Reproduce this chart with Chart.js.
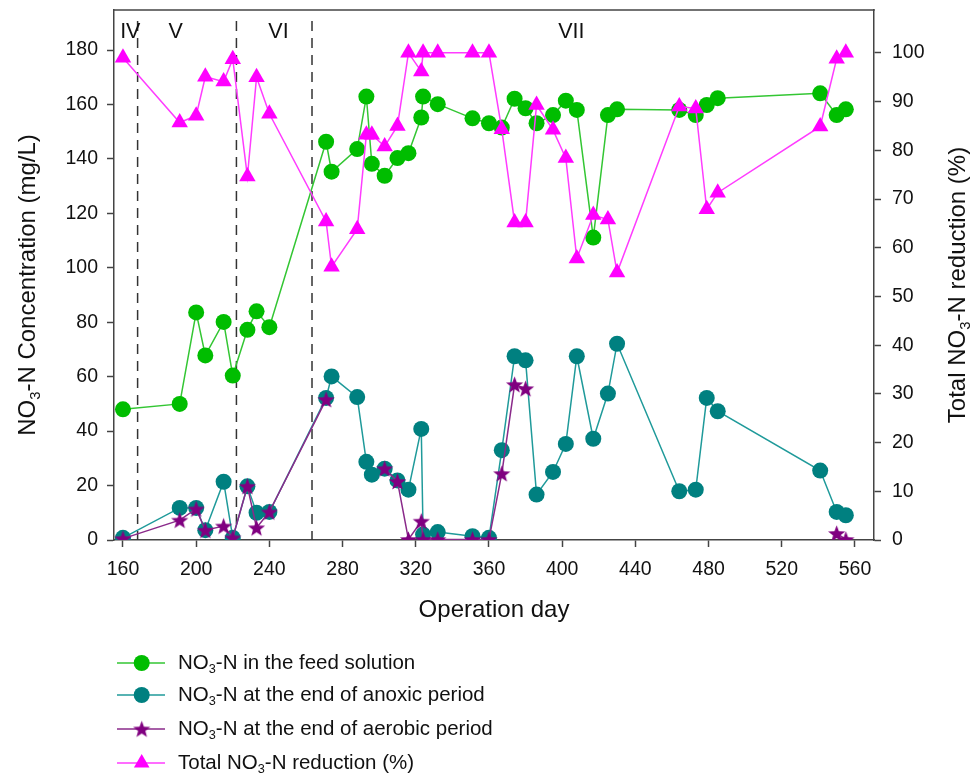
<!DOCTYPE html>
<html>
<head>
<meta charset="utf-8">
<script src="https://cdn.jsdelivr.net/npm/chart.js@4.4.1/dist/chart.umd.min.js"></script>
<style>
  html, body { margin: 0; padding: 0; background: #ffffff; }
  #wrap { position: relative; width: 976px; height: 776px; }
</style>
</head>
<body>
<div id="wrap"><canvas id="c" width="976" height="776"></canvas></div>
<script>
// Operation days (shared by all four series)
const days = [160, 191, 200, 205, 215, 220, 228, 233, 240, 271, 274, 288, 293, 296, 303, 310, 316, 323, 324, 332,
              351, 360, 367, 374, 380, 386, 395, 402, 408, 417, 425, 430, 464, 473, 479, 485, 541, 550, 555];

// NO3-N in the feed solution (mg/L)
const feedN = [48, 50, 83.6, 67.8, 80.1, 60.4, 77.2, 84, 78.2, 146.3, 135.3, 143.6, 162.9, 138.2, 133.8, 140.3, 142.1, 155.2, 162.9, 160.1,
               154.9, 153.1, 151.5, 162.1, 158.6, 153.1, 156.1, 161.4, 158, 111.1, 156.1, 158.2, 158, 156.1, 159.8, 162.3, 164.1, 156.1, 158.2];

// NO3-N at the end of the anoxic period (mg/L)
const anoxicN = [0.8, 11.8, 11.8, 3.6, 21.4, 0.8, 19.7, 10, 10.3, 52.2, 60.1, 52.5, 28.7, 24, 26.2, 21.9, 18.5, 40.8, 2, 2.9,
                 1.4, 0.8, 33, 67.5, 66, 16.7, 25, 35.3, 67.5, 37.2, 53.8, 72.1, 17.9, 18.5, 52.2, 47.3, 25.5, 10.3, 9.1];

// NO3-N at the end of the aerobic period (mg/L); null = not measured
const aerobicN = [0.5, 7.3, 11.4, 3.6, 5.1, 0.8, 19.7, 4.5, 10.3, 51.6, null, null, null, null, 26.2, 21.5, 0.2, 6.9, 0.2, 0.2,
                  0.2, 0.2, 24.4, 57.1, 55.6, null, null, null, null, null, null, null, null, null, null, null, null, 2.4, 0.2];

// Total NO3-N reduction (%)
const reductionPct = [99, 85.7, 87.1, 95.1, 94.1, 98.7, 74.6, 95, 87.5, 65.4, 56.1, 63.8, 83.2, 83.2, 80.8, 85, 100, 96.2, 100, 100,
                      100, 100, 84.3, 65.2, 65.2, 89.3, 84.2, 78.4, 57.8, 66.7, 65.8, 54.9, 89, 88.6, 67.9, 71.3, 84.9, 98.8, 100];

// Tick labels
const xTicks = [160, 200, 240, 280, 320, 360, 400, 440, 480, 520, 560];
const leftTicks = [0, 20, 40, 60, 80, 100, 120, 140, 160, 180];
const rightTicks = [0, 10, 20, 30, 40, 50, 60, 70, 80, 90, 100];

// Operating phases
const phaseBounds = [168, 222, 263.3];
const phaseNames = ['IV', 'V', 'VI', 'VII'];
const phaseLabelDays = [164, 188.8, 245, 405];

const seriesNames = [
  'NO\u2083-N in the feed solution',
  'NO\u2083-N at the end of anoxic period',
  'NO\u2083-N at the end of aerobic period',
  'Total NO\u2083-N reduction (%)'
];

const FONT = '"Liberation Sans", Arial, Helvetica, sans-serif';
const AXIS = '#444444';

const COLORS = {
  feed:   { line: '#33c633', fill: '#00bd00' },
  anoxic: { line: '#1f9a9a', fill: '#008080' },
  aerobic:{ line: '#8a2a8a', fill: '#800080' },
  red:    { line: '#ff3cff', fill: '#ff00ff' }
};

// filled five-point star
function starPath(ctx, cx, cy, R, r) {
  ctx.beginPath();
  for (let i = 0; i < 10; i++) {
    const rad = i % 2 === 0 ? R : r;
    const a = -Math.PI / 2 + i * Math.PI / 5;
    const px = cx + rad * Math.cos(a), py = cy + rad * Math.sin(a);
    if (i === 0) ctx.moveTo(px, py); else ctx.lineTo(px, py);
  }
  ctx.closePath();
}
function makeStar(size, color) {
  const cv = document.createElement('canvas');
  cv.width = size; cv.height = size;
  const g = cv.getContext('2d');
  g.fillStyle = color;
  starPath(g, size / 2, size / 2 + 0.8, size / 2 - 0.5, (size / 2 - 0.5) * 0.42);
  g.fill();
  return cv;
}
const starImg = makeStar(19, COLORS.aerobic.fill);

const pts = arr => days.map((d, i) => ({ x: d, y: arr[i] }));

// text with the subscript 3 drawn smaller and lowered
function richParts(text) {
  return text.split(/(\u2083)/).filter(s => s.length);
}
function richWidth(ctx, text, size) {
  let w = 0;
  for (const p of richParts(text)) {
    ctx.font = (p === '\u2083' ? size * 0.62 : size) + 'px ' + FONT;
    w += ctx.measureText(p === '\u2083' ? '3' : p).width;
  }
  return w;
}
function drawRich(ctx, text, x, y, size) {
  ctx.textBaseline = 'middle';
  ctx.textAlign = 'left';
  let cx = x;
  for (const p of richParts(text)) {
    if (p === '\u2083') {
      ctx.font = (size * 0.62) + 'px ' + FONT;
      ctx.fillText('3', cx, y + size * 0.33);
      cx += ctx.measureText('3').width;
    } else {
      ctx.font = size + 'px ' + FONT;
      ctx.fillText(p, cx, y);
      cx += ctx.measureText(p).width;
    }
  }
}

// keep the plot box at fixed edges: no extra room for half tick labels
function noEdgePadding(s) {
  s.paddingTop = 0; s.paddingBottom = 0; s.paddingLeft = 0; s.paddingRight = 0;
}

const decorPlugin = {
  id: 'decor',
  beforeDatasetsDraw(chart) {
    const { ctx, chartArea, scales } = chart;
    ctx.save();
    ctx.strokeStyle = '#333333';
    ctx.lineWidth = 1.5;
    ctx.setLineDash([10, 7]);
    for (const d of phaseBounds) {
      const px = scales.x.getPixelForValue(d);
      ctx.beginPath();
      ctx.moveTo(px, chartArea.top + 11);
      ctx.lineTo(px, chartArea.bottom);
      ctx.stroke();
    }
    ctx.restore();
  },
  afterDraw(chart) {
    const { ctx, chartArea, scales } = chart;
    ctx.save();
    // top frame edge
    ctx.strokeStyle = AXIS;
    ctx.lineWidth = 1.5;
    ctx.beginPath();
    ctx.moveTo(chartArea.left - 0.75, chartArea.top);
    ctx.lineTo(chartArea.right + 0.75, chartArea.top);
    ctx.stroke();

    ctx.fillStyle = '#111111';
    // phase labels
    ctx.font = '21.5px ' + FONT;
    ctx.textAlign = 'center';
    ctx.textBaseline = 'middle';
    phaseNames.forEach((n, i) => {
      ctx.fillText(n, scales.x.getPixelForValue(phaseLabelDays[i]), chartArea.top + 22);
    });

    // x title
    ctx.font = '24px ' + FONT;
    ctx.fillText('Operation day', 494, 610);

    // left title
    const lt = 'NO\u2083-N Concentration (mg/L)';
    ctx.save();
    ctx.translate(28, 285);
    ctx.rotate(-Math.PI / 2);
    drawRich(ctx, lt, -richWidth(ctx, lt, 24) / 2, 0, 24);
    ctx.restore();

    // right title
    const rt = 'Total NO\u2083-N reduction (%)';
    ctx.save();
    ctx.translate(958, 285);
    ctx.rotate(-Math.PI / 2);
    drawRich(ctx, rt, -richWidth(ctx, rt, 24) / 2, 0, 24);
    ctx.restore();

    // legend
    const rows = [663, 695, 729, 763];
    const sty = [COLORS.feed, COLORS.anoxic, COLORS.aerobic, COLORS.red];
    rows.forEach((ry, i) => {
      ctx.strokeStyle = sty[i].line;
      ctx.lineWidth = 1.5;
      ctx.setLineDash([]);
      ctx.beginPath();
      ctx.moveTo(117, ry);
      ctx.lineTo(165, ry);
      ctx.stroke();
      ctx.fillStyle = sty[i].fill;
      if (i < 2) {
        ctx.beginPath();
        ctx.arc(141.7, ry, 8, 0, Math.PI * 2);
        ctx.fill();
      } else if (i === 2) {
        ctx.drawImage(starImg, 141.7 - 9.5, ry - 9.5);
      } else {
        const r = 9;
        ctx.beginPath();
        ctx.moveTo(141.7, ry - r);
        ctx.lineTo(141.7 + r * 0.866, ry + r / 2);
        ctx.lineTo(141.7 - r * 0.866, ry + r / 2);
        ctx.closePath();
        ctx.fill();
      }
      ctx.fillStyle = '#111111';
      drawRich(ctx, seriesNames[i], 178, ry, 20.5);
    });
    ctx.restore();
  }
};

const tickFont = { family: FONT, size: 19.5 };

new Chart(document.getElementById('c'), {
  type: 'line',
  data: {
    datasets: [
      {
        label: seriesNames[3], data: pts(reductionPct), yAxisID: 'y1', order: 0,
        borderColor: COLORS.red.line, borderWidth: 1.5,
        pointStyle: 'triangle', pointRadius: 9.5,
        pointBackgroundColor: COLORS.red.fill, pointBorderColor: COLORS.red.fill, pointBorderWidth: 0
      },
      {
        label: seriesNames[2], data: pts(aerobicN), yAxisID: 'y', order: 1, spanGaps: false,
        borderColor: COLORS.aerobic.line, borderWidth: 1.5,
        pointStyle: starImg, pointRadius: 9
      },
      {
        label: seriesNames[1], data: pts(anoxicN), yAxisID: 'y', order: 2,
        borderColor: COLORS.anoxic.line, borderWidth: 1.5,
        pointStyle: 'circle', pointRadius: 8,
        pointBackgroundColor: COLORS.anoxic.fill, pointBorderColor: COLORS.anoxic.fill, pointBorderWidth: 0
      },
      {
        label: seriesNames[0], data: pts(feedN), yAxisID: 'y', order: 3,
        borderColor: COLORS.feed.line, borderWidth: 1.5,
        pointStyle: 'circle', pointRadius: 8,
        pointBackgroundColor: COLORS.feed.fill, pointBorderColor: COLORS.feed.fill, pointBorderWidth: 0
      }
    ]
  },
  options: {
    responsive: false,
    animation: false,
    devicePixelRatio: 1,
    layout: { autoPadding: false, padding: { top: 10, left: 0, right: 0, bottom: 0 } },
    plugins: { legend: { display: false }, tooltip: { enabled: false } },
    elements: { line: { tension: 0 } },
    scales: {
      x: {
        type: 'linear', min: 155.1, max: 570.4,
        afterBuildTicks: s => { s.ticks = xTicks.map(v => ({ value: v })); },
        afterFit: s => { s.height = 236; noEdgePadding(s); },
        grid: { drawOnChartArea: false, tickLength: 7, color: AXIS, tickWidth: 1.5 },
        border: { color: AXIS, width: 1.5 },
        ticks: { font: tickFont, color: '#111', padding: 11, maxRotation: 0, autoSkip: false }
      },
      y: {
        position: 'left', min: 0, max: 194.7,
        afterBuildTicks: s => { s.ticks = leftTicks.map(v => ({ value: v })); },
        afterFit: s => { s.width = 114; noEdgePadding(s); },
        grid: { drawOnChartArea: false, tickLength: 7, color: AXIS, tickWidth: 1.5 },
        border: { color: AXIS, width: 1.5 },
        ticks: { font: tickFont, color: '#111', padding: 9 }
      },
      y1: {
        position: 'right', min: 0, max: 108.8,
        afterBuildTicks: s => { s.ticks = rightTicks.map(v => ({ value: v })); },
        afterFit: s => { s.width = 102; noEdgePadding(s); },
        grid: { drawOnChartArea: false, tickLength: 7, color: AXIS, tickWidth: 1.5 },
        border: { color: AXIS, width: 1.5 },
        ticks: { font: tickFont, color: '#111', padding: 11 }
      }
    }
  },
  plugins: [decorPlugin]
});
</script>
</body>
</html>
